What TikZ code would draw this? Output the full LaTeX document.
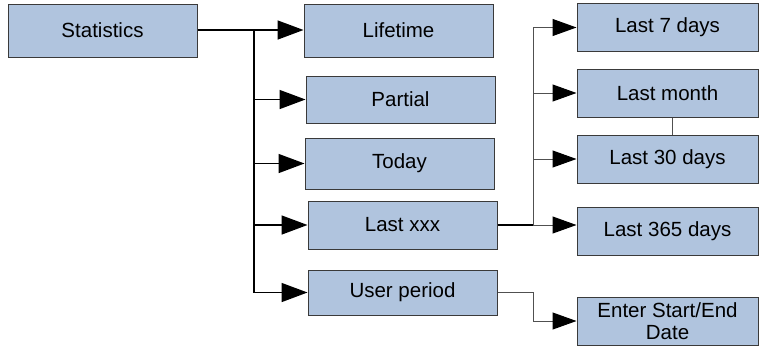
\documentclass[tikz,border=0pt]{standalone}
\usepackage{fontspec}
\setmainfont{Liberation Sans}
\usetikzlibrary{arrows.meta,positioning,calc}
\definecolor{Box}{HTML}{B0C4DE}
\definecolor{Edge}{HTML}{3A3A3A}
\definecolor{Wire}{HTML}{505050}

\begin{document}
\begin{tikzpicture}[x=1pt,y=-1pt,
        n/.style={draw=Edge,fill=Box,line width=1pt,minimum width=189pt,inner sep=0pt,align=center,font=\fontsize{20.5}{22}\selectfont},
        r/.style={n,minimum width=181pt,minimum height=48pt},
        a/.style={-{Triangle[length=26pt,width=19pt]},line width=1.6pt},
        b/.style={-{Triangle[length=24pt,width=17pt,fill=black,color=black]},line width=1pt,draw=Wire}]
        \useasboundingbox (0,0) rectangle (760,346);
        % left column
        \node[n,minimum height=53pt] (stat) at (102.5,30.5) {Statistics};
        \node[n,minimum height=53pt] (life) at (398.5,30.5) {Lifetime};
        \node[n,minimum height=47pt] (part) at (400.5,99.5) {Partial};
        \node[n,minimum height=51pt] (today) at (399.5,163.5) {Today};
        \node[n,minimum height=48pt] (lastx) at (402.5,225) {Last xxx};
        \node[n,minimum height=45pt] (user) at (402.5,292.5) {User period};
        % right column
        \node[r] (l7) at (667.5,27.5) {Last 7 days};
        \node[r] (lmon) at (667.5,93) {Last month};
        \node[r] (l30) at (667.5,159) {Last 30 days};
        \node[r] (l365) at (667.5,231) {Last 365 days};
        \node[r] (enter) at (667.5,321) {Enter Start/End\\Date};
        % main tree
        \coordinate (trunk) at (254,30);
        \draw[a] (stat.east |- trunk) -- (life.west |- trunk);
        \draw[a] (trunk) |- (user.west);
        \draw[a] (trunk |- part.west) -- (part.west);
        \draw[a] (trunk |- today.west) -- (today.west);
        \draw[a] (trunk |- lastx.west) -- (lastx.west);
        % last xxx branch
        \coordinate (fork) at (533,225);
        \draw[line width=1.6pt] (lastx.east) -- (fork);
        \draw[b] (fork) -- (l365.west |- fork);
        \draw[b] (fork) |- (l7.west);
        \draw[b] (fork |- lmon.west) -- (lmon.west);
        \draw[b] (fork |- l30.west) -- (l30.west);
        \draw[line width=1pt,draw=Wire] ([xshift=4.5pt]lmon.south) -- ([xshift=4.5pt]l30.north);
        % user period
        \draw[b] (user.east) -| (fork |- enter.west) -- (enter.west);
\end{tikzpicture}
\end{document}
